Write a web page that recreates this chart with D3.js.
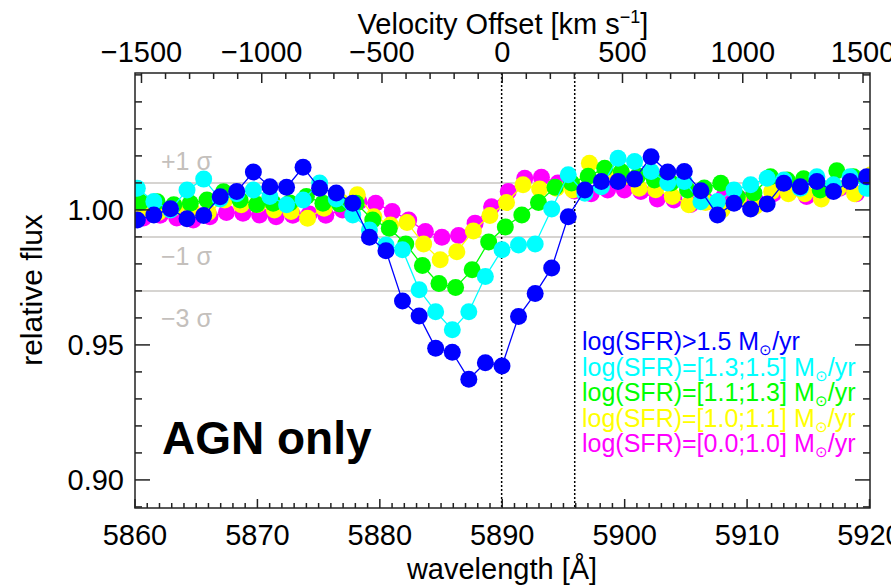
<!DOCTYPE html>
<html>
<head>
<meta charset="utf-8">
<script src="https://cdn.jsdelivr.net/npm/d3@7"></script>
<style>
  body { margin: 0; background: #fff; }
  svg { display: block; font-family: "Liberation Sans", Arial, Helvetica, sans-serif; }
</style>
</head>
<body>
<div class="canvas"></div>
<script>
// wavelength grid of the stacked spectra (Angstrom)
const wavelength = [5860.19, 5861.54, 5862.90, 5864.25, 5865.61, 5866.96, 5868.31, 5869.67, 5871.02, 5872.38,
    5873.73, 5875.08, 5876.44, 5877.79, 5879.15, 5880.50, 5881.85, 5883.21, 5884.56, 5885.92,
    5887.27, 5888.62, 5889.98, 5891.33, 5892.69, 5894.04, 5895.39, 5896.75, 5898.10, 5899.46,
    5900.81, 5902.16, 5903.52, 5904.87, 5906.23, 5907.58, 5908.93, 5910.29, 5911.64, 5913.00,
    5914.35, 5915.70, 5917.06, 5918.41, 5919.77];

// each stack sits on a slightly shifted grid (Angstrom)
const seriesShift = [0, 0, 0.27, 0.37, 0.51];

const fluxBlue = [0.9963, 0.9981, 1.0004, 0.9967, 0.9979, 1.0049, 1.0068, 1.0140, 1.0086, 1.0084,
    1.0158, 1.0080, 1.0063, 1.0025, 0.9899, 0.9849, 0.9663, 0.9607, 0.9488, 0.9473,
    0.9373, 0.9434, 0.9422, 0.9605, 0.9690, 0.9785, 0.9975, 1.0074, 1.0105, 1.0105,
    1.0114, 1.0197, 1.0140, 1.0142, 1.0071, 0.9981, 1.0025, 1.0003, 1.0022, 1.0099,
    1.0086, 1.0105, 1.0068, 1.0105, 1.0123];
const fluxCyan = [1.0080, 1.0031, 1.0000, 1.0074, 1.0114, 1.0040, 1.0060, 1.0074, 1.0050, 1.0019,
    1.0037, 1.0100, 1.0040, 0.9981, 0.9926, 0.9870, 0.9852, 0.9704, 0.9623, 0.9556,
    0.9623, 0.9753, 0.9852, 0.9870, 0.9874, 1.0003, 1.0130, 1.0062, 1.0086, 1.0191,
    1.0179, 1.0142, 1.0100, 1.0105, 1.0030, 1.0031, 1.0074, 1.0093, 1.0117, 1.0111,
    1.0080, 1.0123, 1.0093, 1.0123, 1.0080];
const fluxGreen = [1.0028, 1.0030, 1.0019, 1.0025, 1.0037, 1.0067, 1.0037, 1.0020, 1.0025, 1.0026,
    1.0050, 1.0025, 1.0022, 1.0025, 0.9963, 0.9932, 0.9874, 0.9794, 0.9727, 0.9713,
    0.9778, 0.9881, 0.9937, 0.9981, 1.0027, 1.0084, 1.0100, 1.0125, 1.0154, 1.0141,
    1.0126, 1.0111, 1.0100, 1.0074, 1.0081, 1.0099, 1.0049, 1.0063, 1.0123, 1.0111,
    1.0115, 1.0074, 1.0145, 1.0123, 1.0111];
const fluxYellow = [1.0000, 0.9990, 1.0010, 1.0000, 0.9990, 1.0037, 1.0019, 1.0020, 1.0000, 0.9994,
    0.9969, 1.0006, 1.0030, 1.0056, 0.9975, 0.9944, 0.9953, 0.9874, 0.9815, 0.9845,
    0.9922, 0.9979, 1.0027, 1.0093, 1.0077, 1.0080, 1.0074, 1.0173, 1.0140, 1.0120,
    1.0080, 1.0075, 1.0050, 1.0019, 1.0027, 1.0000, 1.0040, 1.0013, 1.0068, 1.0060,
    1.0060, 1.0040, 1.0080, 1.0060, 1.0130];
const fluxMagenta = [0.9970, 0.9980, 0.9970, 0.9963, 0.9975, 0.9990, 0.9988, 0.9981, 0.9975, 0.9980,
    0.9985, 0.9980, 1.0000, 1.0030, 1.0025, 0.9994, 0.9963, 0.9920, 0.9899, 0.9905,
    0.9951, 1.0012, 1.0068, 1.0117, 1.0121, 1.0100, 1.0070, 1.0060, 1.0074, 1.0074,
    1.0068, 1.0040, 1.0037, 1.0020, 1.0030, 1.0050, 1.0040, 1.0030, 1.0060, 1.0070,
    1.0050, 1.0060, 1.0080, 1.0060, 1.0080];

const seriesFlux = [fluxBlue, fluxCyan, fluxGreen, fluxYellow, fluxMagenta];
const seriesColors = ["#0000ff", "#00ffff", "#00ff00", "#ffff00", "#ff00ff"];
const legendLabels = [
    ["log(SFR)>1.5 M", "/yr"],
    ["log(SFR)=[1.3;1.5] M", "/yr"],
    ["log(SFR)=[1.1;1.3] M", "/yr"],
    ["log(SFR)=[1.0;1.1] M", "/yr"],
    ["log(SFR)=[0.0;1.0] M", "/yr"]
];

const sigmaLevels = [1.01, 0.99, 0.97];
const sigmaLabels = ["+1 \u03c3", "\u22121 \u03c3", "\u22123 \u03c3"];
const naLines = [5889.95, 5895.92];
const restWave = 5890;
const lightSpeed = 299792.458;

const width = 891, height = 586;
const plotLeft = 135, plotRight = 870, plotTop = 73, plotBottom = 508;

const svg = d3.select(".canvas").append("svg")
    .attr("width", width)
    .attr("height", height);

const x = d3.scaleLinear().domain([5860, 5920]).range([plotLeft, plotRight - 0.5]);
const y = d3.scaleLinear().domain([0.8896, 1.0507]).range([plotBottom, plotTop]);
const vmax = (5920 - restWave) / restWave * lightSpeed;
const xv = d3.scaleLinear().domain([-vmax, vmax]).range([plotLeft, plotRight - 0.5]);

svg.append("defs").append("clipPath").attr("id", "plot-clip")
    .append("rect")
    .attr("x", plotLeft).attr("y", plotTop)
    .attr("width", plotRight - plotLeft).attr("height", plotBottom - plotTop);

// sigma levels
svg.append("g").selectAll("line")
    .data(sigmaLevels)
    .enter().append("line")
    .attr("x1", plotLeft).attr("x2", plotRight)
    .attr("y1", d => y(d)).attr("y2", d => y(d))
    .attr("stroke", "#c9c6c2")
    .attr("stroke-width", 1.5);

const sigmaY = [y(1.01) - 13, y(0.99) + 28, y(0.97) + 36];
svg.append("g").selectAll("text")
    .data(sigmaLabels)
    .enter().append("text")
    .attr("x", 161)
    .attr("y", (d, i) => sigmaY[i])
    .attr("font-size", 25)
    .attr("fill", "#c4c0bc")
    .text(d => d);

// Na D rest wavelengths
svg.append("g").selectAll("line")
    .data(naLines)
    .enter().append("line")
    .attr("x1", d => x(d)).attr("x2", d => x(d))
    .attr("y1", plotTop).attr("y2", plotBottom)
    .attr("stroke", "#000")
    .attr("stroke-width", 1.5)
    .attr("stroke-dasharray", "2,2");

// spectra, drawn so that the highest SFR bin ends up on top
const plot = svg.append("g").attr("clip-path", "url(#plot-clip)");
const order = [4, 3, 2, 1, 0];
order.forEach(k => {
    const pts = wavelength.map((w, i) => ({ w: w + seriesShift[k], f: seriesFlux[k][i] }));
    const g = plot.append("g");
    g.append("path")
        .datum(pts)
        .attr("fill", "none")
        .attr("stroke", seriesColors[k])
        .attr("stroke-width", 1.3)
        .attr("d", d3.line().x(d => x(d.w)).y(d => y(d.f)));
    g.selectAll("circle")
        .data(pts)
        .enter().append("circle")
        .attr("cx", d => x(d.w))
        .attr("cy", d => y(d.f))
        .attr("r", 8.5)
        .attr("fill", seriesColors[k]);
});

// frame
svg.append("rect")
    .attr("x", plotLeft).attr("y", plotTop)
    .attr("width", plotRight - plotLeft).attr("height", plotBottom - plotTop)
    .attr("fill", "none")
    .attr("stroke", "#222")
    .attr("stroke-width", 1.5);

const tickStyle = sel => sel.attr("stroke", "#222").attr("stroke-width", 1.5);

// bottom axis: ticks point inward
const bottomMajor = d3.range(5860, 5921, 10);
const bottomMinor = d3.range(5861, 5920, 1).filter(d => d % 10 !== 0);
svg.append("g").selectAll("line")
    .data(bottomMinor.map(d => [d, 5]).concat(bottomMajor.map(d => [d, 9])))
    .enter().append("line")
    .attr("x1", d => x(d[0])).attr("x2", d => x(d[0]))
    .attr("y1", plotBottom).attr("y2", d => plotBottom - d[1])
    .call(tickStyle);
svg.append("g").selectAll("text")
    .data(bottomMajor)
    .enter().append("text")
    .attr("x", d => x(d))
    .attr("y", 545)
    .attr("text-anchor", "middle")
    .attr("font-size", 29)
    .text(d => d);

// top axis in velocity
const topMajor = d3.range(-1500, 1501, 500);
const topMinor = d3.range(-1500, 1501, 100).filter(d => d % 500 !== 0);
svg.append("g").selectAll("line")
    .data(topMinor.map(d => [d, 6]).concat(topMajor.map(d => [d, 10])))
    .enter().append("line")
    .attr("x1", d => xv(d[0])).attr("x2", d => xv(d[0]))
    .attr("y1", plotTop).attr("y2", d => plotTop + d[1])
    .call(tickStyle);
svg.append("g").selectAll("text")
    .data(topMajor)
    .enter().append("text")
    .attr("x", d => xv(d))
    .attr("y", 61.5)
    .attr("text-anchor", "middle")
    .attr("font-size", 29)
    .text(d => d3.format("d")(d));

// left and right axes
const yMajor = [0.90, 0.95, 1.00];
const yMinor = d3.range(0.89, 1.051, 0.01).map(d => +d.toFixed(2)).filter(d => !yMajor.includes(d));
const yTicks = yMinor.map(d => [d, 7]).concat(yMajor.map(d => [d, 15]));
svg.append("g").selectAll("line")
    .data(yTicks)
    .enter().append("line")
    .attr("x1", plotLeft).attr("x2", d => plotLeft + d[1])
    .attr("y1", d => y(d[0])).attr("y2", d => y(d[0]))
    .call(tickStyle);
svg.append("g").selectAll("line")
    .data(yTicks)
    .enter().append("line")
    .attr("x1", plotRight).attr("x2", d => plotRight - d[1])
    .attr("y1", d => y(d[0])).attr("y2", d => y(d[0]))
    .call(tickStyle);
svg.append("g").selectAll("text")
    .data(yMajor)
    .enter().append("text")
    .attr("x", 124)
    .attr("y", d => y(d) + 10)
    .attr("text-anchor", "end")
    .attr("font-size", 29)
    .text(d => d3.format(".2f")(d));

// axis titles
const topTitle = svg.append("text")
    .attr("x", 503).attr("y", 34)
    .attr("text-anchor", "middle")
    .attr("font-size", 29);
topTitle.append("tspan").text("Velocity Offset [km s");
topTitle.append("tspan").attr("font-size", 18).attr("dy", -11).text("\u22121");
topTitle.append("tspan").attr("dy", 11).text("]");

svg.append("text")
    .attr("x", 502).attr("y", 579)
    .attr("text-anchor", "middle")
    .attr("font-size", 29)
    .text("wavelength [\u00c5]");

svg.append("text")
    .attr("transform", "translate(42,290) rotate(-90)")
    .attr("text-anchor", "middle")
    .attr("font-size", 30)
    .text("relative flux");

svg.append("text")
    .attr("x", 162).attr("y", 454)
    .attr("font-size", 46)
    .attr("font-weight", "bold")
    .text("AGN only");

// legend
const legendY = [350, 375.5, 401, 426.5, 452];
legendLabels.forEach((lab, i) => {
    const t = svg.append("text")
        .attr("x", 582).attr("y", legendY[i])
        .attr("font-size", 25)
        .attr("fill", seriesColors[i]);
    t.append("tspan").text(lab[0]);
    t.append("tspan").attr("font-size", 15).attr("dy", 5).text("\u2299");
    t.append("tspan").attr("dy", -5).text(lab[1]);
});
</script>
</body>
</html>
